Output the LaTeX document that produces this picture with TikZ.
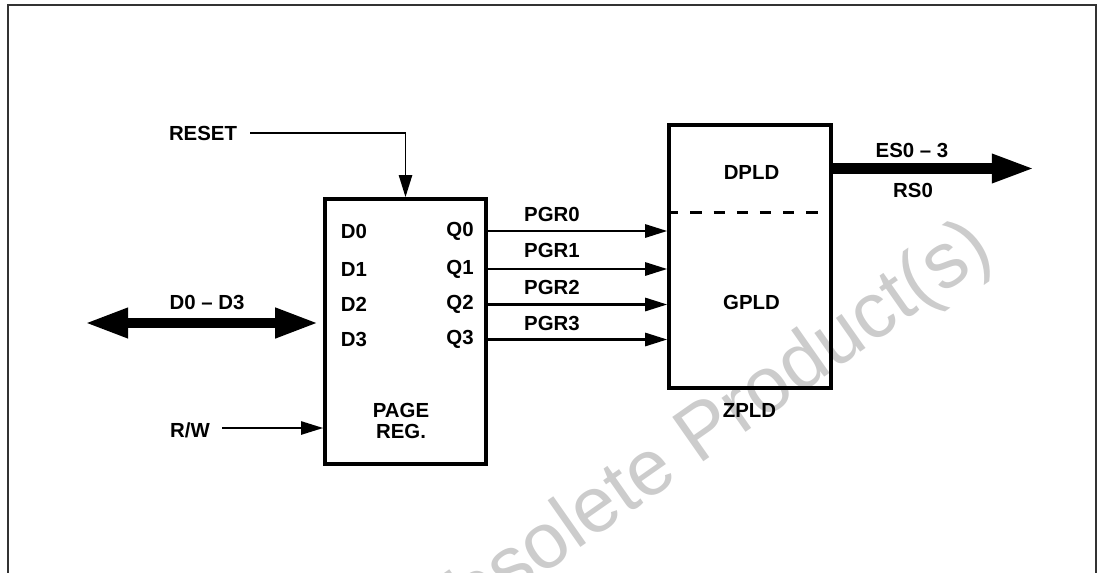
\documentclass[tikz,border=0pt]{standalone}
\usepackage{fontspec}
\setmainfont{Liberation Sans}
\usetikzlibrary{arrows.meta,positioning}
\tikzset{
  lbl/.style={font=\fontsize{14.5}{15.2}\selectfont\bfseries,inner sep=0pt},
  blockbox/.style={draw,line width=2.6pt,inner sep=0pt},
  sig/.style={line width=1.6pt,-{Triangle[length=5.5mm,width=3.3mm]}},
  bus/.style={line width=7pt,{Triangle[length=10.8mm,width=7mm]}-{Triangle[length=10.8mm,width=7mm]}},
  bigsig/.style={line width=7.5pt,-{Triangle[length=10.8mm,width=6.6mm]}},
  divider/.style={line width=2pt,dash pattern=on 2.8mm off 3mm},
  frame/.style={draw=black!80,line width=1pt},
  wmark/.style={font=\fontsize{56}{60}\selectfont,text=black!20,inner sep=0pt}
}
\begin{document}
\begin{tikzpicture}[x=0.025cm,y=-0.025cm]
  \useasboundingbox (0,0) rectangle (1102,572);
  \draw[frame] (8,580) -- (8,5) -- (1096,5) -- (1096,580);
  \begin{scope}
    \clip (0,0) rectangle (1102,572);
    \node[wmark,rotate=35,anchor=base west] (wm) at (422,659) {Obsolete Product(s)};
  \end{scope}
  \node[blockbox,minimum width=4.025cm,minimum height=6.625cm] (reg) at (405.5,331.5) {};
  \node[blockbox,minimum width=4.05cm,minimum height=6.575cm] (zpld) at (750,256.5) {};
  \foreach \i/\y in {0/231,1/269,2/304.5,3/339.5} {
    \node[lbl] (d\i) at (354,\y) {D\i};
    \node[lbl] (q\i) at (460,\y) {Q\i};
    \draw[sig] (reg.east |- q\i.center) -- (zpld.west |- q\i.center);
  }
  \foreach \i/\y in {0/214,1/250.5,2/287.5,3/323.5}
    \node[lbl] (pgr\i) at (552,\y) {PGR\i};
  \node[lbl,align=center] (pagereg) at (401,421) {PAGE\\REG.};
  \node[lbl] (reset) at (203,133) {RESET};
  \draw[sig,line width=1.3pt] ([xshift=3.2mm]reset.east) -| (reg.north);
  \node[lbl] (rw) at (190,430) {R/W};
  \coordinate (rwstart) at ([xshift=3mm,yshift=0.5mm]rw.east);
  \draw[sig,line width=1.3pt] (rwstart) -- (rwstart -| reg.west);
  \node[lbl] (dbus) at (207,302) {D0 – D3};
  \coordinate (busend) at (85,323);
  \draw[bus,shorten >=1.2mm] (busend) -- (busend -| reg.west);
  \coordinate (split) at (750,212.5);
  \draw[divider] (zpld.west |- split) -- (zpld.east |- split);
  \node[lbl] (dpld) at (751.5,172) {DPLD};
  \node[lbl] (gpld) at (751.5,302) {GPLD};
  \node[lbl] (zlbl) at (749.5,410.5) {ZPLD};
  \coordinate (esend) at (1035,168.5);
  \draw[bigsig] (zpld.east |- esend) -- (esend);
  \node[lbl] (es) at (912,150) {ES0 – 3};
  \node[lbl] (rs) at (913,190) {RS0};
\end{tikzpicture}
\end{document}
